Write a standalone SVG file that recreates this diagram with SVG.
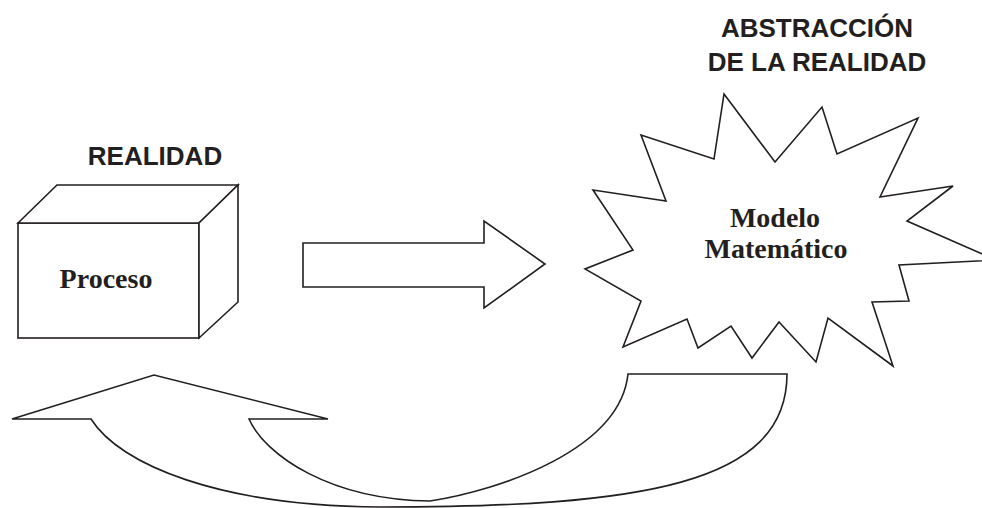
<svg xmlns="http://www.w3.org/2000/svg" width="982" height="508" viewBox="0 0 982 508">
<style>
.ln{fill:#fff;stroke:#231f20;stroke-width:1.6;stroke-linejoin:miter}
.sans{font-family:"Liberation Sans",Arial,sans-serif;font-weight:bold;font-size:26px;fill:#231f20;text-anchor:middle}
.serif{font-family:"Liberation Serif","Times New Roman",serif;font-weight:bold;font-size:28px;fill:#231f20;text-anchor:middle}
</style>
<rect width="982" height="508" fill="#fff"/>
<g id="realidad">
<text class="sans" x="155" y="165">REALIDAD</text>
<g id="proceso">
<rect class="ln" x="18" y="223" width="181" height="115"/>
<polygon class="ln" points="18,223 57,185 238,185 199,223"/>
<polygon class="ln" points="199,223 238,185 238,302 199,338"/>
<text class="serif" x="106" y="288">Proceso</text>
</g>
</g>
<g id="abstraccion">
<text class="sans" x="817" y="37">ABSTRACCIÓN</text>
<text class="sans" x="817" y="71">DE LA REALIDAD</text>
<g id="modelo">
<polygon class="ln" points="724,94 775,162 822,107 837,154 918,118 880,197 953,186 907,221 996,260 899,265 909,301 872,302 893,366 828,318 816,362 779,322 752,358 731,326 698,348 687,319 623,347 641,301 585,269 633,250 593,190 666,201 641,135 714,159"/>
<text class="serif" x="775" y="227">Modelo</text>
<text class="serif" x="776" y="258">Matemático</text>
</g>
</g>
<g id="connectors">
<polygon class="ln" points="303,243 484,243 484,221 545,264 484,308 484,287 303,287"/>
<path class="ln" d="M12,419 L154,375 L328,419 L249,419 C265,455 330,500 430,501 C500,490 620,450 628,374 L787,374 C787,485 640,507 380,507 C220,506 120,465 91,419 Z"/>
</g>
</svg>
